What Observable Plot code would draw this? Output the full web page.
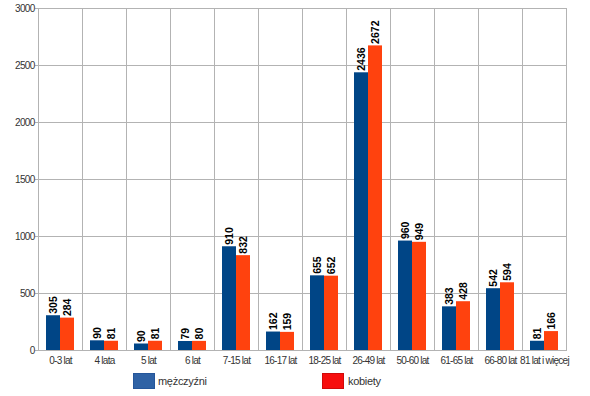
<!DOCTYPE html>
<html>
<head>
<meta charset="utf-8">
<script src="https://cdn.jsdelivr.net/npm/d3@7"></script>
<script src="https://cdn.jsdelivr.net/npm/@observablehq/plot@0.6"></script>
<style>
  body { margin: 0; background: #fff; font-family: "Liberation Sans", Arial, sans-serif; }
  #wrap { position: relative; width: 590px; height: 396px; }
  .sw { position: absolute; width: 22px; height: 16px; box-sizing: border-box; }
  .lbl { position: absolute; font-size: 11px; color: #333; line-height: 16px; letter-spacing: -0.3px; }
  g[aria-label="fx-axis tick label"] text { letter-spacing: -0.75px; }
  g[aria-label="y-axis tick label"] text { letter-spacing: -0.7px; }
</style>
</head>
<body>
<div id="wrap">
  <div id="chart"></div>
  <div class="sw" style="left:133px;top:373px;background:#2f62a5;border:1px solid #25569a;"></div>
  <div class="lbl" style="left:158px;top:373px;">mężczyźni</div>
  <div class="sw" style="left:322px;top:373px;background:#f70e0e;border:1px solid #d00a0a;"></div>
  <div class="lbl" style="left:348px;top:373px;">kobiety</div>
</div>
<script>
const categories = ["0-3 lat","4 lata","5 lat","6 lat","7-15 lat","16-17 lat","18-25 lat","26-49 lat","50-60 lat","61-65 lat","66-80 lat","81 lat i więcej"];
const series = ["mężczyźni","kobiety"];
const menValues   = [305, 85, 57, 79, 910, 162, 655, 2436, 960, 383, 542, 81];
const womenValues = [284, 81, 81, 80, 832, 159, 652, 2672, 949, 428, 594, 166];
const menLabels   = ["305","90","90","79","910","162","655","2436","960","383","542","81"];
const womenLabels = ["284","81","81","80","832","159","652","2672","949","428","594","166"];
const yTicks = [0, 500, 1000, 1500, 2000, 2500, 3000];
const barColors = ["#004586", "#ff420e"];

const data = categories.flatMap((c, i) => [
  {cat: c, sex: series[0], v: menValues[i], label: menLabels[i]},
  {cat: c, sex: series[1], v: womenValues[i], label: womenLabels[i]}
]);

const chart = Plot.plot({
  width: 590,
  height: 370,
  marginLeft: 35,
  marginRight: 22,
  marginTop: 8,
  marginBottom: 20,
  style: {fontFamily: "Liberation Sans, Arial, sans-serif", fontSize: "10px", color: "#333"},
  fx: {domain: categories, padding: 0, label: null, axis: null},
  x: {domain: series, paddingInner: 0, paddingOuter: 0.52, axis: null},
  y: {domain: [0, 3000], axis: null},
  color: {domain: series, range: barColors},
  marks: [
    Plot.gridY(yTicks, {stroke: "#b3b3b3", strokeOpacity: 1}),
    Plot.frame({anchor: "left", stroke: "#b3b3b3"}),
    Plot.frame({anchor: "right", stroke: "#b3b3b3"}),
    Plot.axisY(yTicks, {tickSize: 3, tickPadding: 1, fontSize: 10, stroke: "#b3b3b3", label: null, color: "#333", tickFormat: d => String(d)}),
    Plot.axisFx({anchor: "bottom", tickSize: 0, tickPadding: 6, fontSize: 10, label: null, color: "#333"}),
    Plot.ruleY([0], {stroke: "#b3b3b3"}),
    Plot.barY(data, {fx: "cat", x: "sex", y: "v", fill: "sex", inset: 0}),
    Plot.text(data, {fx: "cat", x: "sex", y: "v", text: "label", rotate: -90, textAnchor: "start", dy: -2, fontWeight: "bold", fontSize: 10.5, fill: "#000"})
  ]
});
document.getElementById("chart").appendChild(chart);
</script>
</body>
</html>
